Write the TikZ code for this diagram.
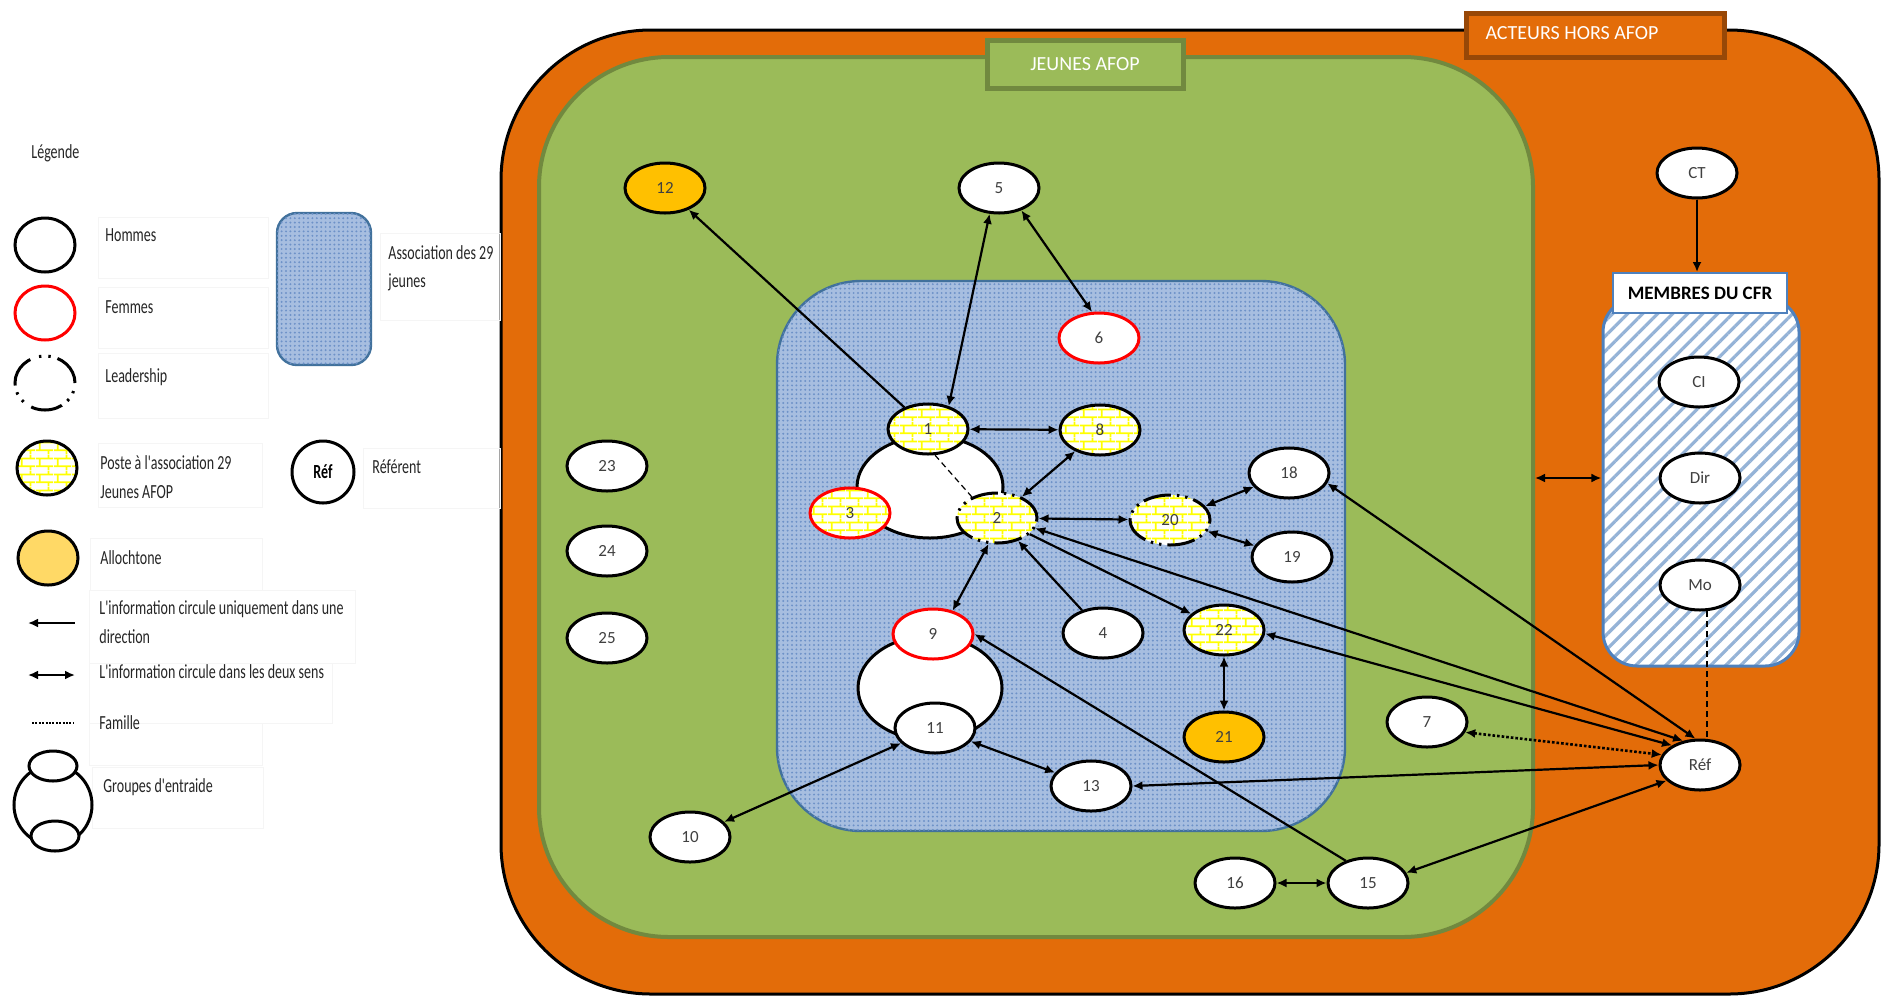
\documentclass[tikz,border=0pt]{standalone}
\usepackage{fontspec}
\setmainfont{Carlito}
\newfontfamily\legfont[FakeStretch=0.7]{Carlito}
\usetikzlibrary{shapes.geometric,arrows.meta,patterns,patterns.meta}

\definecolor{orangebg}{HTML}{E36C09}
\definecolor{orangetab}{HTML}{984807}
\definecolor{greenbg}{HTML}{9BBB59}
\definecolor{greenline}{HTML}{71893F}
\definecolor{assocfill}{HTML}{A7BEE0}
\definecolor{assocdot}{HTML}{6E92C8}
\definecolor{assocline}{HTML}{41719C}
\definecolor{hatchblue}{HTML}{95B3D7}
\definecolor{hatchline}{HTML}{4F81BD}
\definecolor{allogold}{HTML}{FFC000}
\definecolor{allolight}{HTML}{FFD966}
\definecolor{labelgray}{HTML}{404040}

% yellow brick wall used for the "poste" members
\tikzdeclarepattern{
  name=yellowbricks,
  type=uncolored,
  bounding box={(0pt,0pt) and (9pt,8pt)},
  tile size={(9pt,8pt)},
  code={
    \draw[line width=0.9pt] (0pt,2pt) -- (9pt,2pt);
    \draw[line width=0.9pt] (0pt,6pt) -- (9pt,6pt);
    \draw[line width=0.9pt] (2pt,2pt) -- (2pt,6pt);
    \draw[line width=0.9pt] (6.5pt,6pt) -- (6.5pt,8pt);
    \draw[line width=0.9pt] (6.5pt,0pt) -- (6.5pt,2pt);
  }
}

\tikzset{
  person/.style={ellipse, draw=black, line width=1.5pt, fill=white,
    minimum width=40pt, minimum height=25pt, inner sep=0pt,
    font=\fontsize{8.5}{10}\selectfont, text=labelgray},
  woman/.style={person, draw=red},
  allo/.style={person, fill=allogold},
  poste/.style={preaction={fill=white}, pattern=yellowbricks, pattern color=yellow},
  leader/.style={dash pattern=on 14pt off 3pt on 1.2pt off 3pt on 1.2pt off 3pt},
  grp/.style={ellipse, draw=black, line width=1.5pt, fill=white, inner sep=0pt},
  assocbox/.style={draw=assocline, line width=1.2pt, fill=assocfill,
    postaction={pattern={Dots[distance=2.2pt,radius=0.55pt]}, pattern color=assocdot}},
  link/.style={line width=1.1pt, draw=black},
  dotlink/.style={line width=1.3pt, draw=black, dash pattern=on 1.3pt off 1pt},
  famille/.style={line width=0.6pt, draw=black, dash pattern=on 3pt off 2pt},
  legtext/.style={anchor=west, inner sep=0pt, font=\legfont\fontsize{10}{12}\selectfont, text=black!85},
  legbox/.style={draw=black!4, line width=0.4pt},
  legshape/.style={ellipse, draw=black, line width=1.5pt, fill=white,
    minimum width=30pt, minimum height=27pt, inner sep=0pt},
  tabtext/.style={inner sep=0pt, text=white, font=\fontsize{10}{12}\selectfont},
}

\begin{document}
\begin{tikzpicture}[x=0.5pt, y=-0.5pt, >={Latex[length=5pt,width=4.5pt]}]
\useasboundingbox (0,0) rectangle (1888,997);
\fill[white] (0,0) rectangle (1888,997);

% ---------- containers ----------
\node[draw=black, line width=1.5pt, fill=orangebg, rounded corners=75pt,
  minimum width=689pt, minimum height=482pt, inner sep=0pt] (outer) at (1190,512) {};
\node[draw=orangetab, line width=2.5pt, fill=orangebg,
  minimum width=129pt, minimum height=22pt, inner sep=0pt] (acteurs) at (1595,35) {};
\node[tabtext] (acteurslabel) at (1572,33) {ACTEURS HORS AFOP};

\node[draw=greenline, line width=2pt, fill=greenbg, rounded corners=65pt,
  minimum width=497pt, minimum height=440pt, inner sep=0pt] (jeunes) at (1036,497) {};
\node[draw=greenline, line width=2.5pt, fill=greenbg,
  minimum width=98pt, minimum height=24pt, tabtext] (jeunestab) at (1085,64) {JEUNES AFOP};

\node[assocbox, rounded corners=42pt,
  minimum width=284pt, minimum height=275pt, inner sep=0pt] (assoc) at (1061,556) {};

\node[draw=hatchline, line width=1.5pt, preaction={fill=white},
  pattern={Lines[angle=45,distance=5.3pt,line width=1.6pt]}, pattern color=hatchblue,
  rounded corners=17pt, minimum width=98pt, minimum height=184pt, inner sep=0pt] (cfr) at (1701,482) {};
\node[draw=hatchline, line width=1pt, fill=white, minimum width=87pt, minimum height=20pt,
  inner sep=0pt, font=\bfseries\fontsize{9.5}{11}\selectfont, text=black] (cfrlabel) at (1700,293) {MEMBRES DU CFR};

% ---------- mutual-aid groups ----------
\node[grp, minimum width=73pt, minimum height=51pt] (grpA) at (930,487) {};
\node[grp, minimum width=72pt, minimum height=52pt] (grpB) at (930,688) {};

% ---------- people ----------
\node[allo] (n12) at (665,188) {12};
\node[person] (n5) at (999,188) {5};
\node[woman] (n6) at (1099,338) {6};
\node[person, poste] (n1) at (928,429) {1};
\node[person, poste] (n8) at (1100,430) {8};
\node[woman, poste] (n3) at (850,513) {3};
\node[person, poste, leader] (n2) at (997,518) {2};
\node[person, poste, leader] (n20) at (1170,520) {20};
\node[person] (n18) at (1289,473) {18};
\node[person] (n19) at (1292,557) {19};
\node[woman] (n9) at (933,634) {9};
\node[person] (n4) at (1103,633) {4};
\node[person, poste] (n22) at (1224,630) {22};
\node[allo] (n21) at (1224,737) {21};
\node[person] (n11) at (935,728) {11};
\node[person] (n13) at (1091,786) {13};
\node[person] (n10) at (690,837) {10};
\node[person] (n16) at (1235,883) {16};
\node[person] (n15) at (1368,883) {15};
\node[person] (n7) at (1427,722) {7};
\node[person] (n23) at (607,466) {23};
\node[person] (n24) at (607,551) {24};
\node[person] (n25) at (607,638) {25};
\node[person] (nCT) at (1697,173) {CT};
\node[person] (nCI) at (1699,382) {CI};
\node[person] (nDir) at (1700,478) {Dir};
\node[person] (nMo) at (1700,585) {Mo};
\node[person] (Ref) at (1700,765) {Réf};

% ---------- information flows ----------
\draw[link, ->] (n1) -- (n12);
\draw[link, <->] (n1.48) -- (n5.-110);
\draw[link, <->] (n5.-45) -- (n6.105);
\draw[link, <->] (n1) -- (n8);
\draw[link, <->] (n8) -- (n2);
\draw[link, <->] (n20) -- (n2);
\draw[link, <->] (n20) -- (n18);
\draw[link, <->] (n20) -- (n19);
\draw[link, <->] (n2.-108) -- (n9.50);
\draw[link, ->] (n4) -- (n2);
\draw[link, ->] (n2) -- (n22);
\draw[link, <->] (n2.-15) -- (Ref.125);
\draw[link, <->] (n22.-5) -- (Ref.145);
\draw[link, <->] (n18.-15) -- (Ref.100);
\draw[link, <->] (n13.0) -- (Ref.180);
\draw[link, <->] (n15.15) -- (Ref.-155);
\draw[dotlink, <->] (n7.-15) -- (Ref.165);
\draw[link, ->] (n15.135) -- (n9.0);
\draw[link, <->] (n16) -- (n15);
\draw[link, <->] (n11) -- (n13);
\draw[link, <->] (n11) -- (n10);
\draw[link, <->] (n22) -- (n21);
\draw[link, ->] (nCT) -- (nCT |- cfrlabel.north);
\draw[link, <->] (jeunes.east |- nDir) -- (cfr.west |- nDir);
% family ties
\draw[famille] (n1.-75) -- (n2.140);
\draw[famille] (nMo.-75) -- (nMo.-75 |- Ref.north);

% ---------- legend ----------
\node[legtext] (legtitle) at (31,153) {Légende};

\draw[legbox] (98,217) rectangle (268,278);
\node[legshape] (lgman) at (45,245) {};
\node[legtext] (lgmantxt) at (105,235) {Hommes};

\draw[legbox] (98,287) rectangle (268,348);
\node[legshape, draw=red] (lgwoman) at (45,313) {};
\node[legtext] (lgwomantxt) at (105,307) {Femmes};

\draw[legbox] (98,353) rectangle (268,418);
\node[legshape, dash pattern=on 16pt off 3.5pt on 1.2pt off 3.5pt on 1.2pt off 4.6pt] (lglead) at (45,383) {};
\node[legtext] (lgleadtxt) at (105,377) {Leadership};

\node[assocbox, rounded corners=10pt,
  minimum width=47pt, minimum height=76pt, inner sep=0pt] (lgassoc) at (324,289) {};
\draw[legbox] (380,233) rectangle (500,320);
\node[legtext] (lgassoctxt) at (388,253) {Association des 29};
\node[legtext] (lgassoctxtb) at (388,282) {jeunes};

\draw[legbox] (98,443) rectangle (262,507);
\node[legshape, poste] (lgposte) at (47,468) {};
\node[legtext] (lgpostetxt) at (100,463) {Poste à l'association 29};
\node[legtext] (lgpostetxtb) at (100,492) {Jeunes AFOP};

\draw[legbox] (363,448) rectangle (500,508);
\node[circle, draw=black, line width=1.5pt, fill=white, minimum size=31pt, inner sep=0pt,
  font=\legfont\bfseries\fontsize{10}{12}\selectfont] (lgref) at (323,472) {Réf};
\node[legtext] (lgreftxt) at (372,467) {Référent};

\draw[legbox] (90,538) rectangle (262,590);
\node[legshape, fill=allolight] (lgallo) at (48,558) {};
\node[legtext] (lgallotxt) at (100,558) {Allochtone};

\draw[legbox] (89,590) rectangle (355,663);
\coordinate (lgonea) at (28,623);
\coordinate (lgoneb) at (75,623);
\draw[link, line width=1.3pt, <-] (lgonea) -- (lgoneb);
\node[legtext] (lgonetxt) at (99,609) {L'information circule uniquement dans une};
\node[legtext] (lgonetxtb) at (99,637) {direction};

\draw[legbox] (89,663) rectangle (332,723);
\coordinate (lgtwoa) at (28,675);
\coordinate (lgtwob) at (75,675);
\draw[link, line width=1.3pt, <->] (lgtwoa) -- (lgtwob);
\node[legtext] (lgtwotxt) at (99,672) {L'information circule dans les deux sens};

\draw[legbox] (89,723) rectangle (262,765);
\coordinate (lgfama) at (32,723);
\coordinate (lgfamb) at (73,723);
\draw[line width=0.9pt, dash pattern=on 1pt off 0.7pt] (lgfama) -- (lgfamb);
\node[legtext] (lgfamtxt) at (99,723) {Famille};

\draw[legbox] (92,767) rectangle (263,828);
\node[grp, minimum width=39pt, minimum height=40pt] (lggrp) at (53,805) {};
\node[grp, minimum width=24pt, minimum height=15pt] (lggrptop) at (53,766) {};
\node[grp, minimum width=24pt, minimum height=15pt] (lggrpbot) at (55,836) {};
\node[legtext] (lggrptxt) at (103,787) {Groupes d'entraide};
\end{tikzpicture}
\end{document}
